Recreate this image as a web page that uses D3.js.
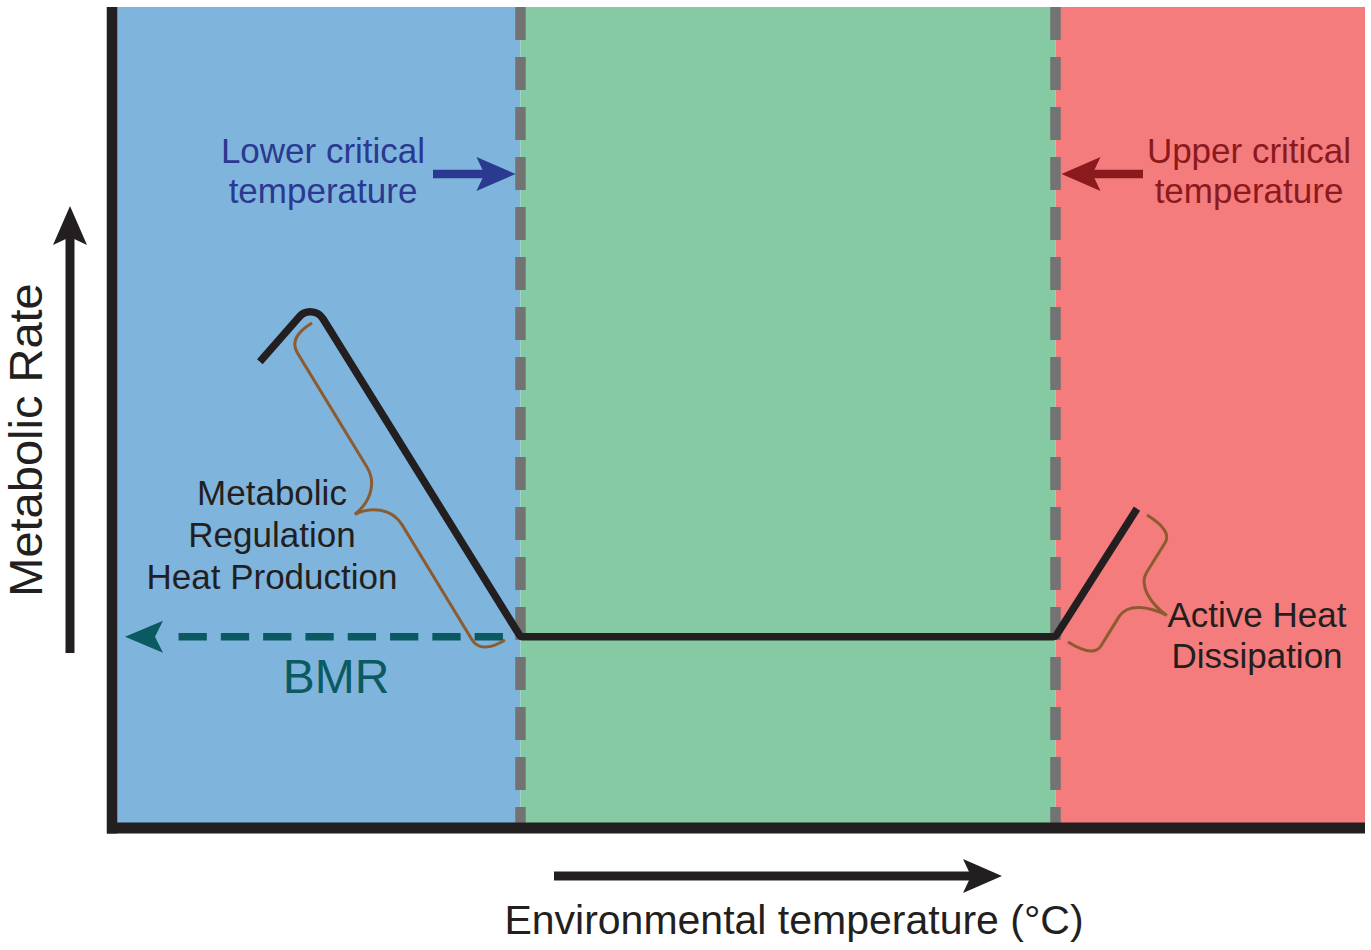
<!DOCTYPE html>
<html>
<head>
<meta charset="utf-8">
<script src="https://cdn.jsdelivr.net/npm/d3@7"></script>
<style>
  html, body { margin: 0; padding: 0; background: #fff; }
  svg { display: block; font-family: "Liberation Sans", Arial, Helvetica, sans-serif; }
</style>
</head>
<body>
<svg id="chart" width="1371" height="950"></svg>
<script>
// zones along the temperature axis (abstract 0-100 units)
const zoneNames = ['cold', 'thermoneutral', 'hot'];
const zoneEdges = [0, 32.6, 75.3, 100];
const zoneColors = ['#7fb5dd', '#85caa2', '#f47c7c'];

// metabolic rate curve
const curveTemp = [11.8, 16.0, 32.6, 75.3, 81.8];
const curveRate = [56.8, 64.1, 23.3, 23.3, 38.9];
const curveRound = [0, 15, 4, 4, 0];

const bmrRate = 23.3;
const criticalTemps = [32.6, 75.3];

const INK = '#231f20';
const BROWN = '#8c5b2f';
const BLUE_TXT = '#2b3990';
const RED_TXT = '#8b1a1e';
const TEAL = '#0c5a61';

const svg = d3.select('#chart');

const x = d3.scaleLinear().domain([0, 100]).range([112, 1365]);
const y = d3.scaleLinear().domain([0, 100]).range([828, 7]);

// background zones
svg.append('g').selectAll('rect')
  .data(zoneNames)
  .enter().append('rect')
  .attr('x', (d, i) => x(zoneEdges[i]))
  .attr('y', y(100))
  .attr('width', (d, i) => x(zoneEdges[i + 1]) - x(zoneEdges[i]))
  .attr('height', y(0) - y(100))
  .attr('fill', (d, i) => zoneColors[i]);

// critical temperature dashed lines
svg.append('g').selectAll('line')
  .data(criticalTemps)
  .enter().append('line')
  .attr('x1', d => x(d)).attr('x2', d => x(d))
  .attr('y1', y(100)).attr('y2', y(0))
  .attr('stroke', '#737373')
  .attr('stroke-width', 10.5)
  .attr('stroke-dasharray', '33,17');

// axes frame (left + bottom)
svg.append('line')
  .attr('x1', x(0)).attr('x2', x(0))
  .attr('y1', y(100)).attr('y2', y(0) + 5.5)
  .attr('stroke', INK).attr('stroke-width', 10.5);
svg.append('line')
  .attr('x1', x(0) - 5).attr('x2', x(100))
  .attr('y1', y(0)).attr('y2', y(0))
  .attr('stroke', INK).attr('stroke-width', 11);

function arrowHead(tip, angle, len, half, notch) {
  const c = Math.cos(angle), s = Math.sin(angle);
  const P = (u, v) => [tip[0] - u * c - v * s, tip[1] - u * s + v * c];
  return 'M' + [P(0, 0), P(len, half), P(len - notch, 0), P(len, -half)].map(p => p.join(',')).join('L') + 'Z';
}

function drawArrow(from, tip, color, width) {
  const ang = Math.atan2(tip[1] - from[1], tip[0] - from[0]);
  const len = 39;
  svg.append('line')
    .attr('x1', from[0]).attr('y1', from[1])
    .attr('x2', tip[0] - Math.cos(ang) * (len - 10)).attr('y2', tip[1] - Math.sin(ang) * (len - 10))
    .attr('stroke', color).attr('stroke-width', width);
  svg.append('path')
    .attr('d', arrowHead(tip, ang, len, 17, 8))
    .attr('fill', color);
}

// axis direction arrows
drawArrow([70, 653], [70, 206], INK, 9);
drawArrow([554, 876], [1002, 876], INK, 9);

// critical temperature pointers
drawArrow([433, 174], [x(criticalTemps[0]) - 5, 174], BLUE_TXT, 8.5);
drawArrow([1143, 174], [x(criticalTemps[1]) + 6, 174], RED_TXT, 8.5);

// BMR dashed arrow
const bmrY = y(bmrRate);
svg.append('line')
  .attr('x1', x(31.2)).attr('x2', 178)
  .attr('y1', bmrY).attr('y2', bmrY)
  .attr('stroke', TEAL).attr('stroke-width', 7.5)
  .attr('stroke-dasharray', '28.3,14');
svg.append('path')
  .attr('d', arrowHead([125, bmrY], Math.PI, 38, 16, 8))
  .attr('fill', TEAL);

// braces
function bracePath(p1, p2, arm, depth, endR, cuspR) {
  const dx = p2[0] - p1[0], dy = p2[1] - p1[1];
  const L = Math.hypot(dx, dy);
  const ux = dx / L, uy = dy / L, nx = -uy, ny = ux;
  const P = (u, v) => (p1[0] + u * ux + v * nx).toFixed(1) + ',' + (p1[1] + u * uy + v * ny).toFixed(1);
  const m = L / 2;
  let d = '';
  [1, -1].forEach(sg => {
    const f = u => sg > 0 ? u : L - u;
    d += 'M' + P(f(0), 0) +
      'Q' + P(f(0), arm) + ' ' + P(f(endR), arm) +
      'L' + P(f(m - cuspR), arm) +
      'C' + P(f(m - cuspR * 0.4), arm) + ' ' + P(f(m - cuspR * 0.05), depth - (depth - arm) * 0.5) + ' ' + P(m, depth);
  });
  return d;
}

svg.append('path')
  .attr('d', bracePath([312, 323], [505, 640], 28, 63, 18, 34))
  .attr('fill', 'none').attr('stroke', BROWN).attr('stroke-width', 3);
svg.append('path')
  .attr('d', bracePath([1068, 642], [1147, 515], 30, 70, 14, 26))
  .attr('fill', 'none').attr('stroke', BROWN).attr('stroke-width', 3);

// metabolic curve with rounded corners
const pts = curveTemp.map((t, i) => [x(t), y(curveRate[i])]);
const path = d3.path();
path.moveTo(pts[0][0], pts[0][1]);
for (let i = 1; i < pts.length - 1; i++) {
  path.arcTo(pts[i][0], pts[i][1], pts[i + 1][0], pts[i + 1][1], curveRound[i]);
}
path.lineTo(pts[pts.length - 1][0], pts[pts.length - 1][1]);
svg.append('path')
  .attr('d', path.toString())
  .attr('fill', 'none')
  .attr('stroke', INK)
  .attr('stroke-width', 7.5)
  .attr('stroke-linejoin', 'round');

// text
function label(lines, cx, baselines, size, color) {
  const t = svg.append('text')
    .attr('text-anchor', 'middle')
    .attr('font-size', size)
    .attr('fill', color);
  lines.forEach((ln, i) => {
    t.append('tspan').attr('x', cx).attr('y', baselines[i]).text(ln);
  });
}

label(['Lower critical', 'temperature'], 323, [163, 203], 35, BLUE_TXT);
label(['Upper critical', 'temperature'], 1249, [163, 203], 35, RED_TXT);
label(['Metabolic', 'Regulation', 'Heat Production'], 272, [505, 547, 589], 35, INK);
label(['BMR'], 336, [693], 48, TEAL);
label(['Active Heat', 'Dissipation'], 1257, [627, 668], 35, INK);
label(['Environmental temperature (°C)'], 794, [934], 41, INK);

svg.append('text')
  .attr('transform', 'translate(42,440) rotate(-90)')
  .attr('text-anchor', 'middle')
  .attr('font-size', 47)
  .attr('fill', INK)
  .text('Metabolic Rate');
</script>
</body>
</html>
